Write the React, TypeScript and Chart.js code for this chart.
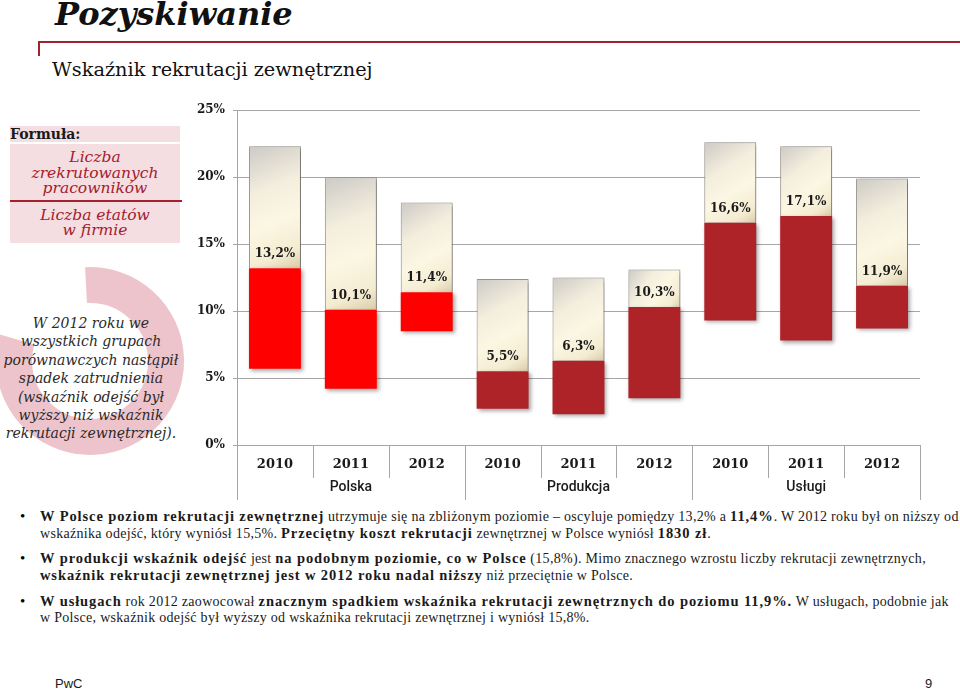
import React, { useEffect, useRef } from 'react';
import { Chart, registerables } from 'chart.js';

Chart.register(...registerables);

// ---- data ----
const years = ['2010', '2011', '2012', '2010', '2011', '2012', '2010', '2011', '2012'];
const groups = ['Polska', 'Produkcja', 'Usługi'];
const groupSize = 3;
const recruitment = [13.2, 10.1, 11.4, 5.5, 6.3, 10.3, 16.6, 17.1, 11.9];
const redBase = [5.7, 4.2, 8.5, 2.7, 2.3, 3.5, 9.3, 7.8, 8.7];
const creamTop = [22.3, 20.0, 18.1, 12.4, 12.5, 13.1, 22.6, 22.3, 19.9];
const groupColors = ['#FF0000', '#AE2328', '#AE2328'];
const yTicks = [0, 5, 10, 15, 20, 25];

const BAR_PCT = 0.685;
const SERIF = '"DejaVu Serif", Georgia, serif';

const fmt = (v: number) => v.toFixed(1).replace('.', ',') + '%';

const barPlugin = {
  id: 'barDecor',
  beforeDatasetsDraw(chart: any) {
    const c = chart.ctx;
    c.save();
    c.shadowColor = 'rgba(0,0,0,0.35)';
    c.shadowBlur = 4;
    c.shadowOffsetX = 2;
    c.shadowOffsetY = 2;
  },
  afterDatasetsDraw(chart: any) {
    const c = chart.ctx;
    c.restore();
    const x = chart.scales.x;
    const y = chart.scales.y;
    c.save();
    c.font = `bold 12px ${SERIF}`;
    c.fillStyle = '#1a1a1a';
    c.textAlign = 'center';
    c.textBaseline = 'middle';
    recruitment.forEach((v, i) => {
      c.fillText(fmt(v), x.getPixelForValue(i), y.getPixelForValue(v) - 14);
    });
    c.restore();
  },
  afterDraw(chart: any) {
    const c = chart.ctx;
    const x = chart.scales.x;
    const y0 = chart.chartArea.bottom;
    c.save();
    c.strokeStyle = '#A6A6A6';
    c.lineWidth = 1;
    for (let b = 0; b <= years.length; b++) {
      const px = Math.round(x.getPixelForValue(b - 0.5)) + 0.5;
      const isGroup = b % groupSize === 0;
      c.beginPath();
      c.moveTo(px, y0);
      c.lineTo(px, y0 + (isGroup ? 55 : 33));
      c.stroke();
    }
    c.font = `500 14px Roboto, "Liberation Sans", sans-serif`;
    c.fillStyle = '#1a1a1a';
    c.textAlign = 'center';
    c.textBaseline = 'middle';
    groups.forEach((g, gi) => {
      c.fillText(g, x.getPixelForValue(gi * groupSize + 1), y0 + 42);
    });
    c.restore();
  },
};

function ChartBox() {
  const ref = useRef<HTMLCanvasElement | null>(null);
  useEffect(() => {
    if (!ref.current) return;
    const creamBg = (ctx: any) => {
      const chart = ctx.chart;
      const x = chart.scales && chart.scales.x;
      const y = chart.scales && chart.scales.y;
      if (!x || !y || ctx.type !== 'data') return '#FBF6E2';
      const i = ctx.dataIndex;
      const cx = x.getPixelForValue(i);
      const half = ((x.width / years.length) * BAR_PCT) / 2;
      const top = y.getPixelForValue(creamTop[i]);
      const bot = y.getPixelForValue(recruitment[i]);
      if (!isFinite(cx) || !isFinite(top) || !isFinite(bot)) return '#FBF6E2';
      const g = chart.ctx.createLinearGradient(cx - half, top, cx + half, bot);
      g.addColorStop(0, '#CDCAC6');
      g.addColorStop(0.35, '#F3EEDD');
      g.addColorStop(0.6, '#FCF7E3');
      g.addColorStop(0.85, '#F4ECD2');
      g.addColorStop(1, '#D9CBA8');
      return g;
    };
    const chart = new Chart(ref.current, {
      type: 'bar',
      data: {
        labels: years,
        datasets: [
          {
            label: 'reszta',
            data: recruitment.map((v, i) => [v, creamTop[i]]) as any,
            backgroundColor: creamBg as any,
            borderColor: '#9C978E',
            borderWidth: { top: 1, left: 1, right: 1, bottom: 0 } as any,
            borderSkipped: false,
            grouped: false,
            order: 2,
            barPercentage: BAR_PCT,
            categoryPercentage: 1,
          } as any,
          {
            label: 'rekrutacja',
            data: recruitment.map((v, i) => [redBase[i], v]) as any,
            backgroundColor: years.map((_, i) => groupColors[Math.floor(i / groupSize)]),
            borderWidth: 0,
            grouped: false,
            order: 1,
            barPercentage: BAR_PCT,
            categoryPercentage: 1,
          } as any,
        ],
      },
      options: {
        animation: false,
        responsive: false,
        maintainAspectRatio: false,
        layout: { padding: { left: 0, right: 15, top: 13, bottom: 0 } },
        plugins: { legend: { display: false }, tooltip: { enabled: false } },
        scales: {
          x: {
            offset: true,
            grid: { display: false, drawOnChartArea: false, drawTicks: false },
            border: { display: true, color: '#A6A6A6' },
            ticks: {
              padding: 12,
              color: '#1a1a1a',
              font: { family: SERIF, weight: 'bold', size: 13 },
              maxRotation: 0,
              autoSkip: false,
            },
            afterFit: (s: any) => {
              s.height = 60;
            },
          },
          y: {
            min: 0,
            max: 25,
            afterBuildTicks: (s: any) => {
              s.ticks = yTicks.map((v) => ({ value: v }));
            },
            grid: { color: '#A6A6A6', lineWidth: 1, tickLength: 4 },
            border: { display: true, color: '#A6A6A6' },
            ticks: {
              padding: 8,
              color: '#1a1a1a',
              font: { family: SERIF, weight: 'bold', size: 12 },
              callback: (v: any) => `${v}%`,
            },
            afterFit: (s: any) => {
              s.width = 52;
            },
          },
        },
      },
      plugins: [barPlugin],
    });
    return () => chart.destroy();
  }, []);
  return (
    <canvas
      ref={ref}
      width={750}
      height={410}
      style={{ position: 'absolute', left: 185, top: 95, width: 750, height: 410 }}
    />
  );
}

const pinkLight = '#F4DEE1';
const pinkRing = '#EEC4CC';
const darkRed = '#A3202E';

// decorative ring (gap in the upper-left quadrant)
const RING_R = 76;
const RING_W = 36;
const RING_SPAN = 289; // degrees covered, starting just left of 12 o'clock, clockwise

const boldSp: React.CSSProperties = { fontWeight: 'bold', fontSize: 14.5, letterSpacing: '0.9px' };

const bulletStyle: React.CSSProperties = {
  position: 'absolute',
  left: 40,
  fontFamily: '"Liberation Serif", serif',
  fontSize: 14,
  lineHeight: '16px',
  color: '#1a1a1a',
  whiteSpace: 'nowrap',
  letterSpacing: '0.3px',
};

export default function App() {
  const circ = 2 * Math.PI * RING_R;
  const arc = (circ * RING_SPAN) / 360;
  return (
    <div style={{ position: 'absolute', left: 0, top: 0, width: 960, height: 690, background: '#fff', overflow: 'hidden' }}>
      <div style={{ position: 'absolute', left: 55, top: -5, fontFamily: SERIF, fontWeight: 'bold', fontStyle: 'italic', fontSize: 32, lineHeight: '38px', color: '#111' }}>
        Pozyskiwanie
      </div>
      <div style={{ position: 'absolute', left: 38, top: 41, width: 922, height: 2, background: darkRed }} />
      <div style={{ position: 'absolute', left: 38, top: 41, width: 2, height: 15, background: darkRed }} />
      <div style={{ position: 'absolute', left: 52, top: 57, fontFamily: SERIF, fontSize: 19.3, lineHeight: '26px', color: '#111' }}>
        Wskaźnik rekrutacji zewnętrznej
      </div>

      {/* formula */}
      <div style={{ position: 'absolute', left: 10, top: 126, width: 170, height: 16, background: pinkLight }} />
      <div style={{ position: 'absolute', left: 10, top: 126, fontFamily: SERIF, fontWeight: 'bold', fontSize: 14, lineHeight: '16px', color: '#1a1a1a' }}>
        Formuła:
      </div>
      <div style={{ position: 'absolute', left: 10, top: 144, width: 170, height: 99, background: pinkLight }} />
      <div style={{ position: 'absolute', left: 10, top: 150, width: 170, textAlign: 'center', fontFamily: SERIF, fontStyle: 'italic', fontSize: 15.5, lineHeight: '15.5px', color: darkRed }}>
        Liczba<br />zrekrutowanych<br />pracowników
      </div>
      <div style={{ position: 'absolute', left: 10, top: 200, width: 172, height: 2, background: darkRed }} />
      <div style={{ position: 'absolute', left: 10, top: 208, width: 170, textAlign: 'center', fontFamily: SERIF, fontStyle: 'italic', fontSize: 15.5, lineHeight: '14.5px', color: darkRed }}>
        Liczba etatów<br />w firmie
      </div>

      {/* ring */}
      <svg width={200} height={200} style={{ position: 'absolute', left: 0, top: 260 }}>
        <circle
          cx={90}
          cy={101}
          r={RING_R}
          fill="none"
          stroke={pinkRing}
          strokeWidth={RING_W}
          strokeDasharray={`${arc} ${circ - arc}`}
          transform="rotate(-93 90 101)"
        />
      </svg>
      <div style={{ position: 'absolute', left: 0, top: 314, width: 182, textAlign: 'center', fontFamily: SERIF, fontStyle: 'italic', fontSize: 14, lineHeight: '18.4px', color: '#2a2a2a' }}>
        W 2012 roku we<br />wszystkich grupach<br />porównawczych nastąpił<br />spadek zatrudnienia<br />(wskaźnik odejść był<br />wyższy niż wskaźnik<br />rekrutacji zewnętrznej).
      </div>

      <ChartBox />

      {/* bullets */}
      {[508, 550, 593].map((t) => (
        <div key={t} style={{ position: 'absolute', left: 20, top: t, fontSize: 15, lineHeight: '16px', fontFamily: '"Liberation Serif", serif' }}>•</div>
      ))}
      <div style={{ ...bulletStyle, top: 508 }}>
        <span style={boldSp}>W Polsce poziom rekrutacji zewnętrznej</span> utrzymuje się na zbliżonym poziomie – oscyluje pomiędzy 13,2% a <span style={boldSp}>11,4%</span>. W 2012 roku był on niższy od
        <br />
        wskaźnika odejść, który wyniósł 15,5%. <span style={boldSp}>Przeciętny koszt rekrutacji</span> zewnętrznej w Polsce wyniósł <span style={boldSp}>1830 zł</span>.
      </div>
      <div style={{ ...bulletStyle, top: 550 }}>
        <span style={boldSp}>W produkcji wskaźnik odejść</span> jest <span style={boldSp}>na podobnym poziomie, co w Polsce</span> (15,8%). Mimo znacznego wzrostu liczby rekrutacji zewnętrznych,
        <br />
        <span style={boldSp}>wskaźnik rekrutacji zewnętrznej jest w 2012 roku nadal niższy</span> niż przeciętnie w Polsce.
      </div>
      <div style={{ ...bulletStyle, top: 593 }}>
        <span style={boldSp}>W usługach</span> rok 2012 zaowocował <span style={boldSp}>znacznym spadkiem wskaźnika rekrutacji zewnętrznych do poziomu 11,9%.</span> W usługach, podobnie jak
        <br />
        w Polsce, wskaźnik odejść był wyższy od wskaźnika rekrutacji zewnętrznej i wyniósł 15,8%.
      </div>

      <div style={{ position: 'absolute', left: 55, top: 676, fontFamily: '"Liberation Sans", Arial, sans-serif', fontSize: 13, lineHeight: '16px', color: '#1a1a1a' }}>PwC</div>
      <div style={{ position: 'absolute', left: 925, top: 676, fontFamily: '"Liberation Sans", Arial, sans-serif', fontSize: 13, lineHeight: '16px', color: '#1a1a1a' }}>9</div>
    </div>
  );
}
